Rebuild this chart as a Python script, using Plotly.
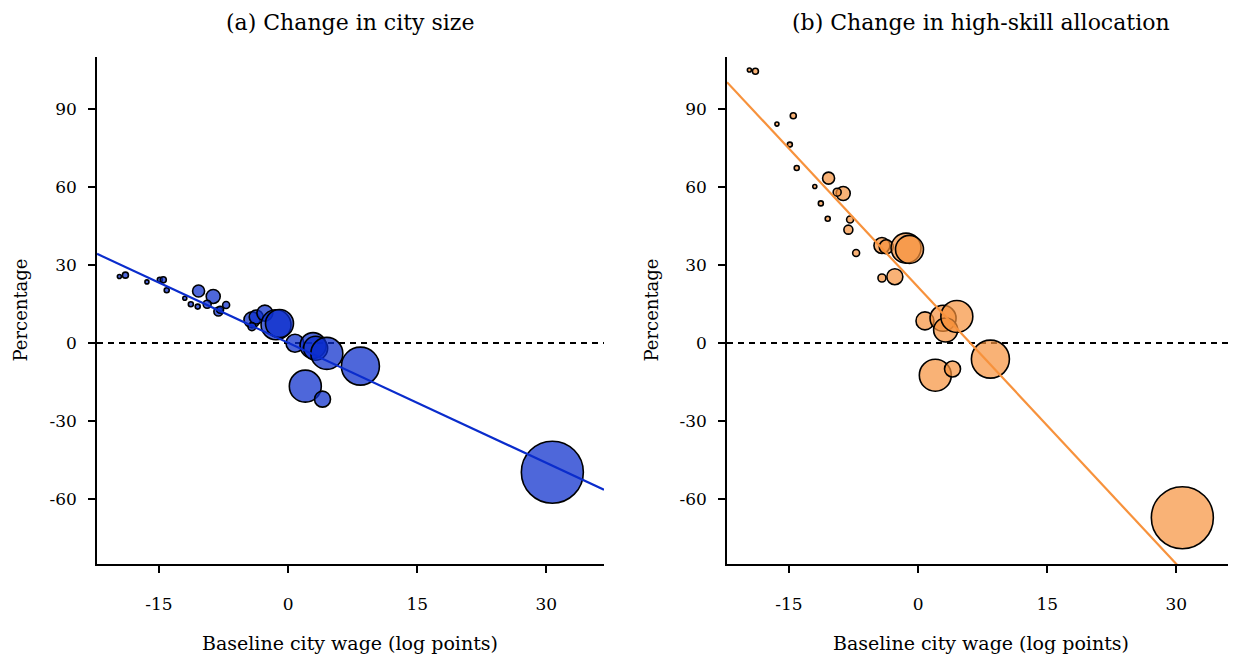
import numpy as np
import plotly.graph_objects as go

# ---- data ----
wage = [-19.6, -18.9, -16.4, -14.9, -14.5, -14.1, -12.0, -10.4, -11.3, -10.5,
        -8.7, -9.4, -8.1, -7.9, -7.2, -4.2, -3.7, -2.7, -4.2, -1.4,
        -1.0, 0.8, 2.9, 3.2, 4.5, 8.4, 2.0, 4.0, 30.7]
size_change = [25.6, 26.1, 23.5, 24.3, 24.3, 20.3, 17.2, 20.0, 14.9, 14.0,
               17.9, 14.9, 12.1, 12.8, 14.6, 8.9, 10.0, 11.5, 6.3, 7.0,
               7.5, -0.1, -1.0, -2.0, -4.0, -8.9, -16.6, -21.6, -49.7]
hs_change = [105.0, 104.5, 84.2, 76.3, 87.4, 67.3, 60.2, 63.4, 53.7, 47.8,
             57.5, 58.0, 43.6, 47.5, 34.6, 37.5, 37.0, 25.5, 25.0, 36.5,
             36.0, 8.5, 9.5, 5.0, 10.2, -6.2, -12.4, -10.0, -67.2]
population = [0.42, 0.94, 0.42, 0.65, 0.94, 0.65, 0.42, 3.75, 0.65, 0.65,
              5.1, 1.66, 2.1, 1.27, 1.27, 6.66, 5.1, 6.66, 1.66, 23.4,
              20.4, 8.4, 17.6, 15.0, 26.6, 37.6, 26.6, 6.66, 100.0]
fit_a = (0.1, -1.54)    # intercept, slope
fit_b = (21.5, -3.55)
x_ticks = [-15, 0, 15, 30]
x_ticklabels = ["-15", "0", "15", "30"]
y_ticks = [-60, -30, 0, 30, 60, 90]
y_ticklabels = ["-60", "-30", "0", "30", "60", "90"]

titles = ["(a) Change in city size", "(b) Change in high-skill allocation"]
xlabel = "Baseline city wage (log points)"
ylabel = "Percentage"

# ---- styling ----
FONT = "DejaVu Serif"
xr = [-22.2, 36.7]
yr = [-85.0, 110.0]
W, H = 1236, 662
OFF = 8  # page body margin


def px(x):
    return (x - OFF) / W


def py(y):
    return (H - (y - OFF)) / H


diam = 62 * np.sqrt(np.array(population) / max(population))

panels = [
    dict(y=size_change, fit=fit_a, line="#0a2ccc", fill="rgba(10,44,204,0.72)",
         xd=[px(97), px(604)]),
    dict(y=hs_change, fit=fit_b, line="#f7923c", fill="rgba(247,146,60,0.7)",
         xd=[px(727), px(1234)]),
]
ydom = [py(564), py(57)]

fig = go.Figure()
for i, p in enumerate(panels):
    xa = "x" if i == 0 else "x2"
    ya = "y" if i == 0 else "y2"
    # zero line
    fig.add_trace(go.Scatter(x=xr, y=[0, 0], mode="lines", xaxis=xa, yaxis=ya,
                             line=dict(color="black", width=2, dash="6px,5px"),
                             showlegend=False, hoverinfo="skip"))
    fig.add_trace(go.Scatter(x=wage, y=p["y"], mode="markers", xaxis=xa, yaxis=ya,
                             marker=dict(size=diam, color=p["fill"], opacity=1,
                                         line=dict(color="black", width=1.6)),
                             showlegend=False))
    xx = np.array(xr)
    fig.add_trace(go.Scatter(x=xx, y=p["fit"][0] + p["fit"][1] * xx, mode="lines",
                             xaxis=xa, yaxis=ya,
                             line=dict(color=p["line"], width=2.2),
                             showlegend=False, hoverinfo="skip"))

axis_common = dict(showline=True, linecolor="black", linewidth=1.6, ticks="outside",
                   ticklen=7, tickwidth=1.5, tickcolor="black", showgrid=False,
                   zeroline=False, mirror=False, automargin=False,
                   tickfont=dict(family=FONT, size=17, color="black"))

layout = dict(
    width=W, height=H, margin=dict(l=0, r=0, t=0, b=0),
    paper_bgcolor="white", plot_bgcolor="white",
    font=dict(family=FONT, color="black"),
    xaxis=dict(domain=panels[0]["xd"], range=xr, tickvals=x_ticks, ticktext=x_ticklabels,
               anchor="y", ticklabelstandoff=17, **axis_common),
    yaxis=dict(domain=ydom, range=yr, tickvals=y_ticks, ticktext=y_ticklabels,
               anchor="x", ticklabelstandoff=8, **axis_common),
    xaxis2=dict(domain=panels[1]["xd"], range=xr, tickvals=x_ticks, ticktext=x_ticklabels,
                anchor="y2", ticklabelstandoff=17, **axis_common),
    yaxis2=dict(domain=ydom, range=yr, tickvals=y_ticks, ticktext=y_ticklabels,
                anchor="x2", ticklabelstandoff=8, **axis_common),
)
fig.update_layout(**layout)

ann = []
for i, p in enumerate(panels):
    cx = (p["xd"][0] + p["xd"][1]) / 2
    ann.append(dict(text=titles[i], x=cx, y=py(23),
                    xref="paper", yref="paper", showarrow=False,
                    xanchor="center", yanchor="middle", borderpad=0,
                    font=dict(family=FONT, size=22, color="black")))
    ann.append(dict(text=xlabel, x=cx, y=py(643), xref="paper", yref="paper",
                    showarrow=False, xanchor="center", yanchor="middle",
                    font=dict(family=FONT, size=19, color="black")))
    lx = 20 if i == 0 else 651
    ann.append(dict(text=ylabel, x=px(lx), y=(ydom[0] + ydom[1]) / 2,
                    xref="paper", yref="paper", showarrow=False, textangle=-90,
                    xanchor="center", yanchor="middle",
                    font=dict(family=FONT, size=18, color="black")))
fig.update_layout(annotations=ann)

fig.write_html("out.html")
